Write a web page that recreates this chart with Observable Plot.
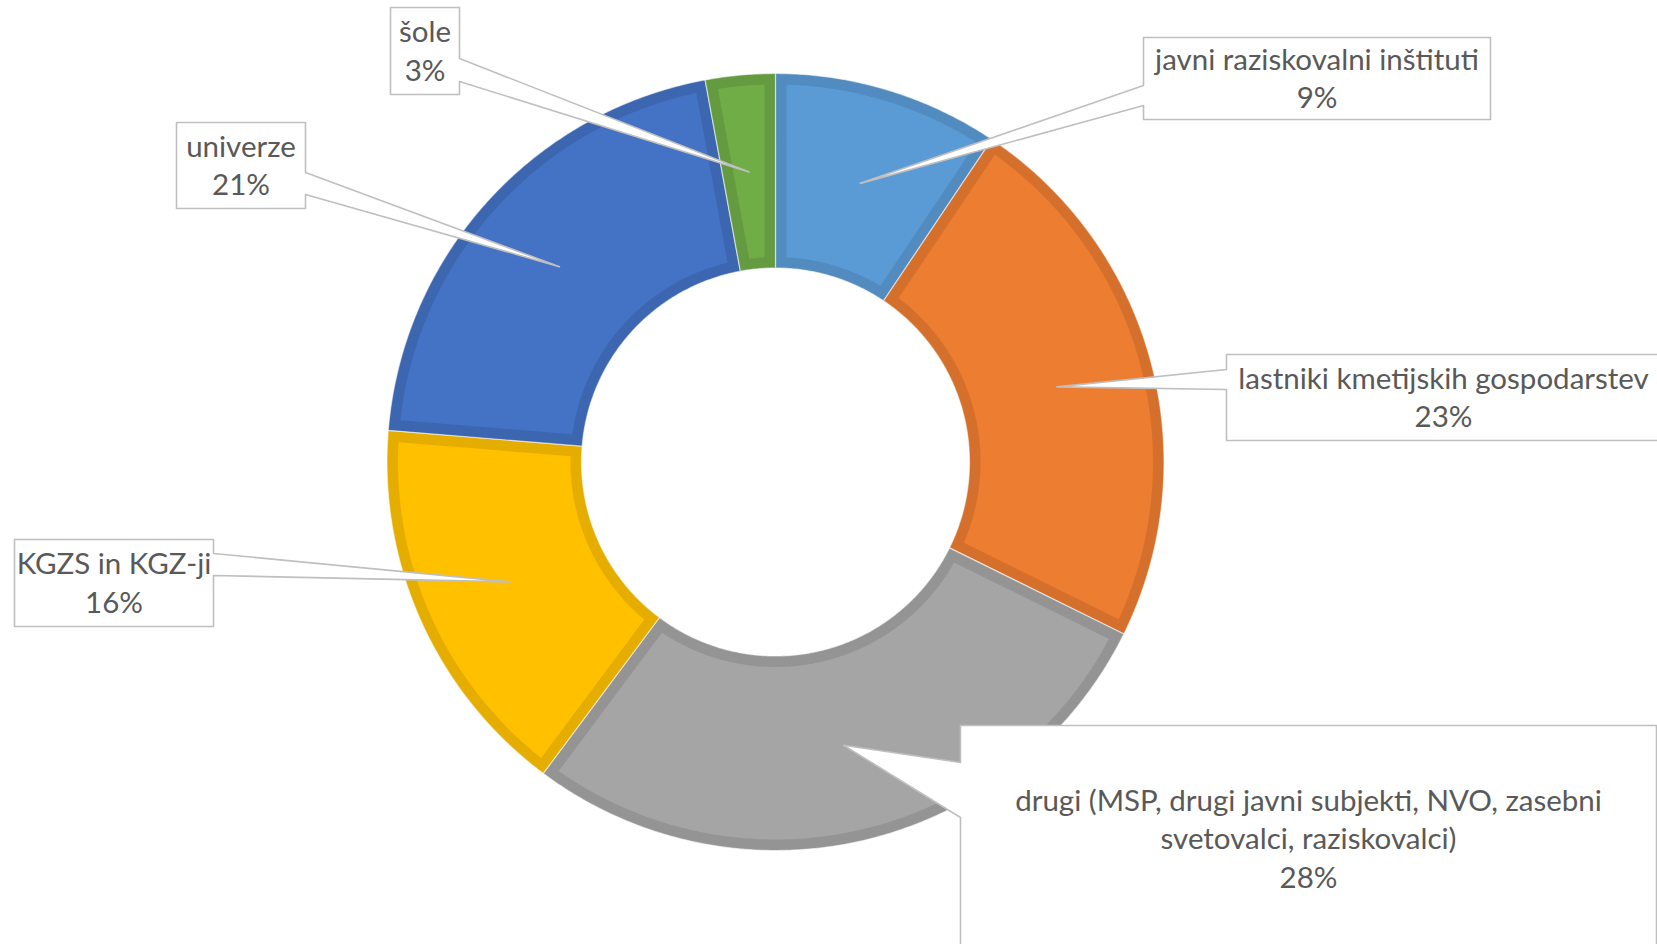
<!DOCTYPE html>
<html><head><meta charset="utf-8">
<script src="https://cdn.jsdelivr.net/npm/d3@7"></script>
<script src="https://cdn.jsdelivr.net/npm/@observablehq/plot@0.6"></script>
<style>html,body{margin:0;padding:0;background:#fff;overflow:hidden}</style>
</head><body><div id="chart"></div>
<script>
// ---- data ----
const categories = [
  "javni raziskovalni inštituti",
  "lastniki kmetijskih gospodarstev",
  "drugi (MSP, drugi javni subjekti, NVO, zasebni svetovalci, raziskovalci)",
  "KGZS in KGZ-ji",
  "univerze",
  "šole"
];
const values = [9.4, 22.9, 27.9, 16.1, 20.8, 2.9];
const labelLines = [
  ["javni raziskovalni inštituti"],
  ["lastniki kmetijskih gospodarstev"],
  ["drugi (MSP, drugi javni subjekti, NVO, zasebni", "svetovalci, raziskovalci)"],
  ["KGZS in KGZ-ji"],
  ["univerze"],
  ["šole"]
];
const colors = ["#5B9BD5", "#ED7D31", "#A5A5A5", "#FFC000", "#4472C4", "#70AD47"];

// ---- layout ----
const W = 1657, H = 944;
const cx = 775, cy = 461.5, R = 388.5, r0 = 194, band = 11;
const boxes = [
  {l: 1143, t: 37,  r: 1490, b: 119, side: "left",  w1: 85,  w2: 105},
  {l: 1226, t: 354, r: 1660, b: 440, side: "left",  w1: 369, w2: 389},
  {l: 960,  t: 725, r: 1656, b: 952, side: "left",  w1: 762, w2: 817},
  {l: 14,   t: 539, r: 213,  b: 626, side: "right", w1: 553, w2: 575},
  {l: 176,  t: 122, r: 305,  b: 208, side: "right", w1: 172, w2: 194},
  {l: 390,  t: 7,   r: 459,  b: 94,  side: "right", w1: 58,  w2: 81}
];

const total = d3.sum(values);
const data = categories.map((c, i) => ({key: c, value: values[i], color: colors[i], dark: d3.color(colors[i]).darker(0.3).formatHex(), i}));
const arcs = d3.pie().sort(null).value(d => d.value)(data);

const pt = (a, rho) => ({x: cx + rho * Math.sin(a), y: cy - rho * Math.cos(a)});
function ring(a0, a1, ro, ri, insetO, insetI) {
  const pts = [];
  const s0 = a0 + insetO, s1 = a1 - insetO;
  const n = Math.max(2, Math.ceil((s1 - s0) / 0.008));
  for (let k = 0; k <= n; k++) pts.push(pt(s0 + (s1 - s0) * k / n, ro));
  const t0 = a0 + insetI, t1 = a1 - insetI;
  const m = Math.max(2, Math.ceil((t1 - t0) / 0.008));
  for (let k = 0; k <= m; k++) pts.push(pt(t1 - (t1 - t0) * k / m, ri));
  return pts;
}
const outerPts = [], innerPts = [];
arcs.forEach(a => {
  ring(a.startAngle, a.endAngle, R, r0, 0, 0).forEach(p => outerPts.push({...p, key: a.data.key, c: a.data.dark}));
  const ro = R - band, ri = r0 + band;
  ring(a.startAngle, a.endAngle, ro, ri, Math.asin(band / ro), Math.asin(band / ri))
    .forEach(p => innerPts.push({...p, key: a.data.key, c: a.data.color}));
});

const calloutPts = [], labels = [];
arcs.forEach((a, i) => {
  const b = boxes[i];
  const mid = (a.startAngle + a.endAngle) / 2;
  const anc = pt(mid, (R + r0) / 2);
  let poly;
  if (b.side === "left") {
    poly = [[b.l, b.t], [b.r, b.t], [b.r, b.b], [b.l, b.b], [b.l, b.w2], [anc.x, anc.y], [b.l, b.w1]];
  } else {
    poly = [[b.l, b.t], [b.r, b.t], [b.r, b.w1], [anc.x, anc.y], [b.r, b.w2], [b.r, b.b], [b.l, b.b]];
  }
  poly.forEach(([x, y]) => calloutPts.push({x, y, key: a.data.key}));
  const pct = Math.round(a.data.value / total * 100) + "%";
  labels.push({x: (b.l + b.r) / 2, y: (b.t + b.b) / 2, text: [...labelLines[i], pct].join("\n")});
});

const chart = Plot.plot({
  width: W, height: H, margin: 0,
  style: {fontFamily: "Lato, 'Open Sans', sans-serif", background: "#fff"},
  x: {domain: [0, W], range: [0, W], axis: null},
  y: {domain: [0, H], range: [0, H], axis: null},
  color: {type: "identity"},
  marks: [
    Plot.line(outerPts, {x: "x", y: "y", z: "key", fill: "c", stroke: "#ffffff", strokeWidth: 1.2, strokeOpacity: 0.55, curve: "linear-closed"}),
    Plot.line(innerPts, {x: "x", y: "y", z: "key", fill: "c", stroke: null, curve: "linear-closed"}),
    Plot.line(calloutPts, {x: "x", y: "y", z: "key", fill: "#ffffff", stroke: "#BFBFBF", strokeWidth: 1.6, curve: "linear-closed"}),
    Plot.text(labels, {x: "x", y: "y", dy: -2, text: "text", fill: "#595959", fontSize: 29.5, lineHeight: 1.32, textAnchor: "middle", lineAnchor: "middle"})
  ]
});
document.getElementById("chart").appendChild(chart);
</script>
</body></html>
